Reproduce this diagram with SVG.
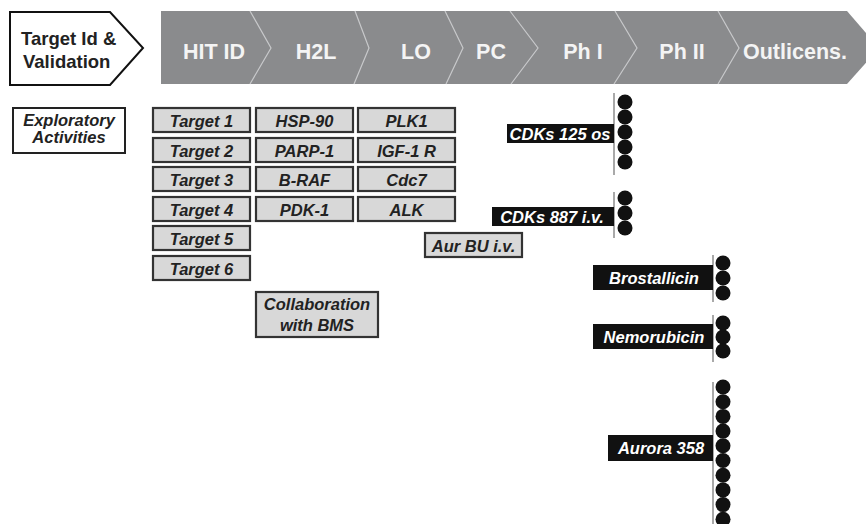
<svg xmlns="http://www.w3.org/2000/svg" width="866" height="524" viewBox="0 0 866 524">
<style>
.hdr{font-family:"Liberation Sans",Arial,sans-serif;font-size:21.5px;font-weight:bold;fill:#f4f4f4;text-anchor:middle}
.sep{fill:none;stroke:#c8c9cb;stroke-width:1.2}
.box rect{fill:#d8d8d8;stroke:#333;stroke-width:2.2}
.bt{font-family:"Liberation Sans",Arial,sans-serif;font-size:16.5px;font-weight:bold;font-style:italic;fill:#222;text-anchor:middle}
.lbl rect{fill:#111}
.lt{font-family:"Liberation Sans",Arial,sans-serif;font-size:16.5px;font-weight:bold;font-style:italic;fill:#fff;text-anchor:middle}
.vl{stroke:#8c8c8c;stroke-width:1.5}
.dot{fill:#111}
</style>
<rect width="866" height="524" fill="#fff"/>
<g id="header">
<polygon points="161,11 847,11 879,48 847,84 161,84" fill="#8a8b8d"/>
<polyline class="sep" points="250,11 271,48 250,84"/>
<polyline class="sep" points="355,11 369,48 354,84"/>
<polyline class="sep" points="445,11 463,48 446,84"/>
<polyline class="sep" points="510,11 538,48 511,84"/>
<polyline class="sep" points="615,11 637,48 614,84"/>
<polyline class="sep" points="718,11 739,48 718,84"/>
<text class="hdr" x="214" y="59">HIT ID</text>
<text class="hdr" x="316" y="59">H2L</text>
<text class="hdr" x="416" y="59">LO</text>
<text class="hdr" x="491" y="59">PC</text>
<text class="hdr" x="583" y="59">Ph I</text>
<text class="hdr" x="682" y="59">Ph II</text>
<text class="hdr" x="795" y="59">Outlicens.</text>
</g>
<g id="target-id">
<polygon points="10,12 110,12 143,48 110,85 10,85" fill="#fff" stroke="#111" stroke-width="2"/>
<text font-family="Liberation Sans,Arial,sans-serif" font-size="18.5" font-weight="bold" fill="#222" x="21" y="45">Target Id &amp;</text>
<text font-family="Liberation Sans,Arial,sans-serif" font-size="18.5" font-weight="bold" fill="#222" x="23" y="68">Validation</text>
</g>
<g id="exploratory">
<rect x="13" y="108" width="112" height="45" fill="#fff" stroke="#222" stroke-width="2"/>
<text class="bt" x="69" y="126">Exploratory</text>
<text class="bt" x="69" y="143">Activities</text>
</g>
<g id="target1" class="box"><rect x="153" y="108" width="97" height="24"/><text class="bt" x="201.5" y="127">Target 1</text></g>
<g id="target2" class="box"><rect x="153" y="138" width="97" height="24"/><text class="bt" x="201.5" y="157">Target 2</text></g>
<g id="target3" class="box"><rect x="153" y="167" width="97" height="24"/><text class="bt" x="201.5" y="186">Target 3</text></g>
<g id="target4" class="box"><rect x="153" y="197" width="97" height="24"/><text class="bt" x="201.5" y="216">Target 4</text></g>
<g id="target5" class="box"><rect x="153" y="226" width="97" height="24"/><text class="bt" x="201.5" y="245">Target 5</text></g>
<g id="target6" class="box"><rect x="153" y="256" width="97" height="24"/><text class="bt" x="201.5" y="275">Target 6</text></g>
<g id="hsp90" class="box"><rect x="256" y="108" width="97" height="24"/><text class="bt" x="304.5" y="127">HSP-90</text></g>
<g id="parp1" class="box"><rect x="256" y="138" width="97" height="24"/><text class="bt" x="304.5" y="157">PARP-1</text></g>
<g id="braf" class="box"><rect x="256" y="167" width="97" height="24"/><text class="bt" x="304.5" y="186">B-RAF</text></g>
<g id="pdk1" class="box"><rect x="256" y="197" width="97" height="24"/><text class="bt" x="304.5" y="216">PDK-1</text></g>
<g id="plk1" class="box"><rect x="358" y="108" width="97" height="24"/><text class="bt" x="406.5" y="127">PLK1</text></g>
<g id="igf1r" class="box"><rect x="358" y="138" width="97" height="24"/><text class="bt" x="406.5" y="157">IGF-1 R</text></g>
<g id="cdc7" class="box"><rect x="358" y="167" width="97" height="24"/><text class="bt" x="406.5" y="186">Cdc7</text></g>
<g id="alk" class="box"><rect x="358" y="197" width="97" height="24"/><text class="bt" x="406.5" y="216">ALK</text></g>
<g id="aurbu" class="box"><rect x="425" y="233" width="97" height="24"/><text class="bt" x="473.5" y="252">Aur BU i.v.</text></g>
<g id="bms" class="box"><rect x="256" y="292" width="122" height="45"/><text class="bt" x="317" y="310">Collaboration</text><text class="bt" x="317" y="331">with  BMS</text></g>
<g id="cdks125" class="lbl">
<line class="vl" x1="614" y1="93" x2="614" y2="175"/>
<rect x="507" y="124" width="107" height="19"/>
<text class="lt" x="560" y="140">CDKs 125 os</text>
<circle class="dot" cx="625" cy="102" r="7.5"/><circle class="dot" cx="625" cy="117" r="7.5"/><circle class="dot" cx="625" cy="132" r="7.5"/><circle class="dot" cx="625" cy="147" r="7.5"/><circle class="dot" cx="625" cy="162" r="7.5"/>
</g>
<g id="cdks887" class="lbl">
<line class="vl" x1="614" y1="192" x2="614" y2="238"/>
<rect x="492" y="207" width="122" height="19"/>
<text class="lt" x="552" y="223">CDKs 887 i.v.</text>
<circle class="dot" cx="625" cy="198" r="7.5"/><circle class="dot" cx="625" cy="213" r="7.5"/><circle class="dot" cx="625" cy="228" r="7.5"/>
</g>
<g id="brostallicin" class="lbl">
<line class="vl" x1="713" y1="255" x2="713" y2="302"/>
<rect x="593" y="265" width="120" height="25"/>
<text class="lt" x="654" y="284">Brostallicin</text>
<circle class="dot" cx="723" cy="263" r="7.5"/><circle class="dot" cx="723" cy="278" r="7.5"/><circle class="dot" cx="723" cy="293" r="7.5"/>
</g>
<g id="nemorubicin" class="lbl">
<line class="vl" x1="713" y1="315" x2="713" y2="362"/>
<rect x="593" y="324" width="120" height="25"/>
<text class="lt" x="654" y="343">Nemorubicin</text>
<circle class="dot" cx="723" cy="323" r="7.5"/><circle class="dot" cx="723" cy="337" r="7.5"/><circle class="dot" cx="723" cy="351" r="7.5"/>
</g>
<g id="aurora358" class="lbl">
<line class="vl" x1="713" y1="382" x2="713" y2="524"/>
<rect x="608" y="435" width="105" height="26"/>
<text class="lt" x="661" y="454">Aurora 358</text>
<circle class="dot" cx="723" cy="387" r="7.5"/><circle class="dot" cx="723" cy="401.7" r="7.5"/><circle class="dot" cx="723" cy="416.4" r="7.5"/><circle class="dot" cx="723" cy="431.1" r="7.5"/><circle class="dot" cx="723" cy="445.8" r="7.5"/><circle class="dot" cx="723" cy="460.5" r="7.5"/><circle class="dot" cx="723" cy="475.2" r="7.5"/><circle class="dot" cx="723" cy="489.9" r="7.5"/><circle class="dot" cx="723" cy="504.6" r="7.5"/><circle class="dot" cx="723" cy="519.3" r="7.5"/>
</g>
</svg>
